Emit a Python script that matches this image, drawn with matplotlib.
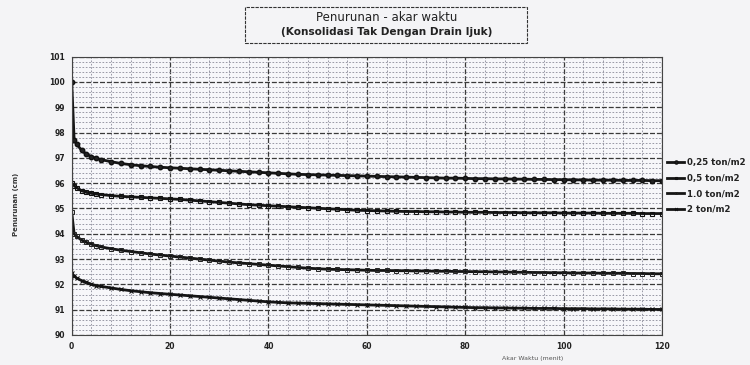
import matplotlib
matplotlib.use("Agg")
import matplotlib.pyplot as plt
from matplotlib.ticker import MultipleLocator

# ---- data ----
x_vals = [0, 0.5, 1, 2, 3, 4, 5, 6, 8, 10, 12, 14, 16, 18, 20, 22, 24, 26, 28, 30,
          32, 34, 36, 38, 40, 42, 44, 46, 48, 50, 52, 54, 56, 58, 60, 62, 64, 66, 68, 70,
          72, 74, 76, 78, 80, 82, 84, 86, 88, 90, 92, 94, 96, 98, 100, 102, 104, 106, 108, 110,
          112, 114, 116, 118, 120]

y_025 = [100.0, 97.70, 97.55, 97.30, 97.15, 97.05, 96.98, 96.93, 96.85, 96.78, 96.73, 96.69, 96.66, 96.63, 96.61, 96.59, 96.57, 96.55, 96.53, 96.51,
         96.49, 96.47, 96.45, 96.43, 96.41, 96.39, 96.37, 96.35, 96.34, 96.33, 96.32, 96.31, 96.30, 96.29, 96.28, 96.27, 96.26, 96.25, 96.24, 96.23,
         96.22, 96.21, 96.20, 96.20, 96.19, 96.18, 96.18, 96.17, 96.17, 96.16, 96.16, 96.15, 96.15, 96.14, 96.14, 96.13, 96.13, 96.12, 96.12, 96.12,
         96.11, 96.11, 96.11, 96.10, 96.10]

y_05 = [96.00, 95.90, 95.82, 95.70, 95.64, 95.60, 95.57, 95.55, 95.51, 95.48, 95.46, 95.44, 95.42, 95.40, 95.38, 95.36, 95.33, 95.30, 95.27, 95.24,
        95.21, 95.18, 95.15, 95.13, 95.11, 95.09, 95.07, 95.05, 95.03, 95.01, 94.99, 94.97, 94.95, 94.93, 94.92, 94.91, 94.90, 94.89, 94.88, 94.88,
        94.87, 94.87, 94.86, 94.86, 94.85, 94.85, 94.85, 94.84, 94.84, 94.84, 94.83, 94.83, 94.83, 94.83, 94.82, 94.82, 94.82, 94.82, 94.81, 94.81,
        94.81, 94.81, 94.80, 94.80, 94.80]

y_10 = [94.85, 94.00, 93.90, 93.75, 93.66, 93.59, 93.53, 93.48, 93.41, 93.35, 93.30, 93.25, 93.20, 93.16, 93.12, 93.08, 93.04, 93.00, 92.96, 92.92,
        92.88, 92.85, 92.82, 92.79, 92.76, 92.73, 92.70, 92.67, 92.64, 92.62, 92.60, 92.59, 92.58, 92.57, 92.56, 92.55, 92.55, 92.54, 92.54, 92.53,
        92.53, 92.52, 92.52, 92.51, 92.51, 92.50, 92.50, 92.49, 92.49, 92.48, 92.48, 92.47, 92.47, 92.46, 92.46, 92.45, 92.45, 92.45, 92.44, 92.44,
        92.44, 92.43, 92.43, 92.42, 92.42]

y_20 = [92.45, 92.33, 92.25, 92.15, 92.08, 92.00, 91.95, 91.92, 91.86, 91.80, 91.75, 91.71, 91.67, 91.64, 91.61, 91.58, 91.55, 91.52, 91.49, 91.46,
        91.43, 91.40, 91.37, 91.34, 91.31, 91.29, 91.27, 91.26, 91.25, 91.24, 91.23, 91.22, 91.21, 91.20, 91.19, 91.18, 91.17, 91.16, 91.15, 91.14,
        91.13, 91.12, 91.11, 91.10, 91.09, 91.08, 91.08, 91.07, 91.07, 91.06, 91.06, 91.05, 91.05, 91.05, 91.04, 91.04, 91.04, 91.03, 91.03, 91.03,
        91.02, 91.02, 91.02, 91.01, 91.01]

series_labels = ["0,25 ton/m2", "0,5 ton/m2", "1.0 ton/m2", "2 ton/m2"]
x_ticks = [0, 20, 40, 60, 80, 100, 120]
y_ticks = [90, 91, 92, 93, 94, 95, 96, 97, 98, 99, 100, 101]

title1 = "Penurunan - akar waktu"
title2 = "(Konsolidasi Tak Dengan Drain Ijuk)"
x_label = "Akar Waktu (menit)"
y_label = "Penurunan (cm)"

# ---- figure ----
plt.rcParams['font.family'] = ['DejaVu Sans']
fig = plt.figure(figsize=(7.5, 3.65), dpi=100, facecolor='#f4f4f6')
ax = fig.add_axes([0.0956, 0.0822, 0.7871, 0.7625])
ax.set_facecolor('#f7f7fa')

styles = [
    dict(marker='o', ms=3.2, mfc='#222222', mec='#111111'),
    dict(marker='s', ms=3.0, mfc='none', mec='#111111', mew=0.8),
    dict(marker='s', ms=2.6, mfc='none', mec='#222222', mew=0.7),
    dict(marker='x', ms=3.0, mec='#111111', mew=0.8),
]
for ys, lab, st in zip([y_025, y_05, y_10, y_20], series_labels, styles):
    ax.plot(x_vals, ys, color='#151515', lw=2.0, label=lab, **st)

ax.set_xlim(0, 120)
ax.set_ylim(90, 101)
ax.set_xticks(x_ticks)
ax.set_yticks(y_ticks)
ax.xaxis.set_minor_locator(MultipleLocator(4))
ax.yaxis.set_minor_locator(MultipleLocator(0.2))
ax.grid(which='major', color='#3a3a3a', lw=0.9, ls=(0, (4, 1.5)))
ax.grid(which='minor', color='#8a8a98', lw=0.6, ls=(0, (2, 2)))
ax.set_axisbelow(True)
ax.tick_params(which='both', length=0, labelsize=5.5, pad=5)
for lbl in ax.get_xticklabels() + ax.get_yticklabels():
    lbl.set_fontweight('bold')
    lbl.set_color('#222222')
for s in ax.spines.values():
    s.set_color('#444444')
    s.set_linewidth(0.8)

leg = ax.legend(loc='center left', bbox_to_anchor=(1.0, 0.535), frameon=False,
                fontsize=6.2, handlelength=2.0, handletextpad=0.3, labelspacing=0.75,
                borderaxespad=0.2, markerscale=0.7)
for t in leg.get_texts():
    t.set_fontweight('bold')
    t.set_color('#222222')

fig.text(0.515, 0.952, title1, ha='center', va='center', fontsize=8.5, color='#222222')
fig.text(0.515, 0.912, title2, ha='center', va='center', fontsize=7.6, fontweight='bold', color='#222222')
fig.patches.append(plt.Rectangle((0.327, 0.882), 0.376, 0.098, transform=fig.transFigure,
                                 fill=False, ec='#333333', lw=0.8, ls=(0, (3, 1))))

fig.text(0.71, 0.018, x_label, ha='center', va='center', fontsize=4.5, color='#555555')
fig.text(0.021, 0.44, y_label, ha='center', va='center', rotation=90, fontsize=5, fontweight='bold', color='#333333')

fig.savefig('out.png', dpi=100, facecolor=fig.get_facecolor())
